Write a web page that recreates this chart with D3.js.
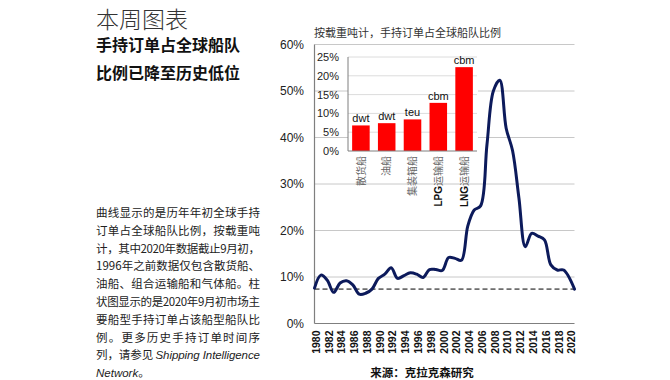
<!DOCTYPE html>
<html>
<head>
<meta charset="utf-8">
<script src="https://cdn.jsdelivr.net/npm/d3@7"></script>
<style>
  body { margin: 0; background: #fff; }
  svg { display: block; }
  text { font-family: "Liberation Sans", Arial, "Noto Sans CJK SC", sans-serif; }
  .cjk { font-family: "Noto Sans CJK SC", "Liberation Sans", sans-serif; }
</style>
</head>
<body>
<svg id="chart" width="670" height="380"></svg>
<script>
// start-of-year orderbook / fleet (dwt); the last point is early Sept 2020
const years = [1980, 1981, 1982, 1983, 1984, 1985, 1986, 1987, 1988, 1989,
  1990, 1991, 1992, 1993, 1994, 1995, 1996, 1997, 1998, 1999,
  2000, 2001, 2002, 2003, 2004, 2005, 2006, 2007, 2008, 2009,
  2010, 2011, 2012, 2013, 2014, 2015, 2016, 2017, 2018, 2019, 2020.7];
const shares = [7.6, 10.4, 9.3, 6.7, 8.7, 9.2, 8.3, 6.3, 6.5, 7.4,
  9.7, 10.6, 12.0, 9.7, 10.3, 10.9, 10.6, 9.9, 11.6, 11.6,
  11.4, 14.2, 14.0, 13.6, 21.0, 24.4, 25.3, 38.5, 50.0, 52.3,
  42.0, 37.2, 27.0, 16.5, 19.4, 18.8, 18.0, 12.6, 11.5, 11.5, 7.4];
const currentLevel = 7.4;
const tickYears = [1980, 1982, 1984, 1986, 1988, 1990, 1992, 1994, 1996, 1998,
  2000, 2002, 2004, 2006, 2008, 2010, 2012, 2014, 2016, 2018, 2020];
const yTicks = [0, 10, 20, 30, 40, 50, 60];

// inset: early Sept 2020 by ship type
const shipTypes = ['散货船', '油船', '集装箱船', 'LPG运输船', 'LNG运输船'];
const shipUnits = ['dwt', 'dwt', 'teu', 'cbm', 'cbm'];
const shipShares = [6.8, 7.4, 8.4, 12.8, 22.3];
const insetTicks = [0, 5, 10, 15, 20, 25];

const title = '本周图表';
const subtitle = ['手持订单占全球船队', '比例已降至历史低位'];
const insetTitle = '按载重吨计，手持订单占全球船队比例';
const source = '来源：克拉克森研究';
// '*' marks italic runs
const noteLines = [
  ['曲线显示的是历年年初全球手持'],
  ['订单占全球船队比例，按载重吨'],
  ['计，其中2020年数据截止9月初，'],
  ['1996年之前数据仅包含散货船、'],
  ['油船、组合运输船和气体船。柱'],
  ['状图显示的是2020年9月初市场主'],
  ['要船型手持订单占该船型船队比'],
  ['例。更多历史手持订单时间序'],
  ['列，请参见 ', '*Shipping Intelligence'],
  ['*Network', '。']
];

const svg = d3.select('#chart');

// ---- left text block ----
svg.append('text').attr('class', 'cjk')
  .attr('x', 96).attr('y', 28)
  .attr('font-size', 23).attr('font-weight', 300).attr('fill', '#333')
  .text(title);

svg.selectAll('.sub').data(subtitle).enter().append('text')
  .attr('class', 'cjk sub')
  .attr('x', 96).attr('y', (d, i) => 51 + i * 28)
  .attr('font-size', 16).attr('font-weight', 'bold').attr('fill', '#111')
  .text(d => d);

const notes = svg.append('g').attr('class', 'cjk').attr('font-size', 11.5).attr('fill', '#222');
noteLines.forEach(function (parts, i) {
  const t = notes.append('text')
    .attr('class', 'cjk')
    .attr('x', 96).attr('y', 217 + i * 17.8);
  if (i < noteLines.length - 1) {
    t.attr('textLength', 164).attr('lengthAdjust', 'spacing');
  }
  parts.forEach(function (p) {
    const italic = p.startsWith('*');
    t.append('tspan')
      .attr('font-family', italic ? '"Liberation Sans", Arial, sans-serif' : null)
      .attr('font-style', italic ? 'italic' : null)
      .text(italic ? p.slice(1) : p);
  });
});

// ---- main chart ----
const x = d3.scaleLinear().domain([1980, 2020.7]).range([314.5, 574.5]);
const y = d3.scaleLinear().domain([0, 60]).range([323.5, 44.5]);

svg.append('g').attr('class', 'grid')
  .selectAll('line').data(yTicks.slice(1)).enter().append('line')
  .attr('x1', x(1980)).attr('x2', x(2020.7))
  .attr('y1', d => y(d)).attr('y2', d => y(d))
  .attr('stroke', '#c8c8c8').attr('stroke-width', 1);

svg.append('g').attr('class', 'ylabels')
  .selectAll('text').data(yTicks).enter().append('text')
  .attr('x', 304).attr('y', d => y(d)).attr('dy', '0.36em')
  .attr('text-anchor', 'end').attr('font-size', 12).attr('fill', '#222')
  .text(d => d + '%');

svg.append('g').attr('class', 'xlabels')
  .selectAll('text').data(tickYears).enter().append('text')
  .attr('transform', d => `translate(${x(d) + 1.5},${y(0) + 7}) rotate(-90)`)
  .attr('dy', '0.36em')
  .attr('text-anchor', 'end').attr('font-size', 10.5).attr('font-weight', 'bold')
  .attr('fill', '#111')
  .text(d => d);

// axis lines
svg.append('line')
  .attr('x1', x(1980)).attr('x2', x(1980)).attr('y1', y(60)).attr('y2', y(0))
  .attr('stroke', '#7f7f7f').attr('stroke-width', 1.2);
svg.append('line')
  .attr('x1', x(1980)).attr('x2', x(2020.7)).attr('y1', y(0)).attr('y2', y(0))
  .attr('stroke', '#7f7f7f').attr('stroke-width', 1.2);

// current level reference
svg.append('line')
  .attr('x1', x(1980)).attr('x2', x(2020.7))
  .attr('y1', y(currentLevel)).attr('y2', y(currentLevel))
  .attr('stroke', '#6e6e6e').attr('stroke-width', 1.6)
  .attr('stroke-dasharray', '5,3');

const line = d3.line()
  .x((d, i) => x(years[i]))
  .y(d => y(d))
  .curve(d3.curveCatmullRom.alpha(0.5));

svg.append('path')
  .datum(shares)
  .attr('fill', 'none')
  .attr('stroke', '#0c1a5b')
  .attr('stroke-width', 3)
  .attr('stroke-linejoin', 'round')
  .attr('stroke-linecap', 'round')
  .attr('d', line);

// ---- inset bar chart ----
const bx = d3.scaleBand().domain(shipTypes).range([348, 477])
  .paddingInner(0.32).paddingOuter(0.16);
const by = d3.scaleLinear().domain([0, 25]).range([151, 57]);

svg.append('text').attr('class', 'cjk')
  .attr('x', 314).attr('y', 37)
  .attr('font-size', 11).attr('fill', '#333')
  .text(insetTitle);

svg.append('rect')
  .attr('x', 348).attr('y', 48).attr('width', 130).attr('height', 103)
  .attr('fill', '#fff');

svg.append('g')
  .selectAll('line').data(insetTicks.slice(1)).enter().append('line')
  .attr('x1', 348).attr('x2', 477)
  .attr('y1', d => by(d)).attr('y2', d => by(d))
  .attr('stroke', '#dcdcdc');

svg.append('g')
  .selectAll('text').data(insetTicks).enter().append('text')
  .attr('x', 339).attr('y', d => by(d)).attr('dy', '0.36em')
  .attr('text-anchor', 'end').attr('font-size', 11).attr('fill', '#222')
  .text(d => d + '%');

svg.append('g')
  .selectAll('rect').data(shipShares).enter().append('rect')
  .attr('x', (d, i) => bx(shipTypes[i]))
  .attr('y', d => by(d))
  .attr('width', bx.bandwidth())
  .attr('height', d => by(0) - by(d))
  .attr('fill', '#ff0000');

svg.append('g')
  .selectAll('text').data(shipShares).enter().append('text')
  .attr('x', (d, i) => bx(shipTypes[i]) + bx.bandwidth() / 2)
  .attr('y', d => by(d) - 3)
  .attr('text-anchor', 'middle').attr('font-size', 11).attr('fill', '#111')
  .text((d, i) => shipUnits[i]);

svg.append('line')
  .attr('x1', 348).attr('x2', 348).attr('y1', by(25)).attr('y2', by(0))
  .attr('stroke', '#7f7f7f');
svg.append('line')
  .attr('x1', 348).attr('x2', 477).attr('y1', by(0)).attr('y2', by(0))
  .attr('stroke', '#7f7f7f');

const cats = svg.append('g')
  .selectAll('text').data(shipTypes).enter().append('text')
  .attr('class', 'cjk')
  .attr('transform', d => `translate(${bx(d) + bx.bandwidth() / 2},${by(0) + 5}) rotate(-90)`)
  .attr('dy', '0.36em')
  .attr('text-anchor', 'end').attr('font-size', 10);
cats.each(function (d) {
  const m = d.match(/^[A-Z]+/);
  const t = d3.select(this);
  if (m) {
    t.append('tspan').attr('font-family', '"Liberation Sans", Arial, sans-serif')
      .attr('font-weight', 'bold').attr('fill', '#111').text(m[0]);
  }
  t.append('tspan').attr('fill', '#666').text(m ? d.slice(m[0].length) : d);
});

// ---- source ----
svg.append('text').attr('class', 'cjk')
  .attr('x', 422).attr('y', 377)
  .attr('text-anchor', 'middle').attr('font-size', 11.5).attr('font-weight', 'bold')
  .attr('fill', '#111')
  .text(source);
</script>
</body>
</html>
